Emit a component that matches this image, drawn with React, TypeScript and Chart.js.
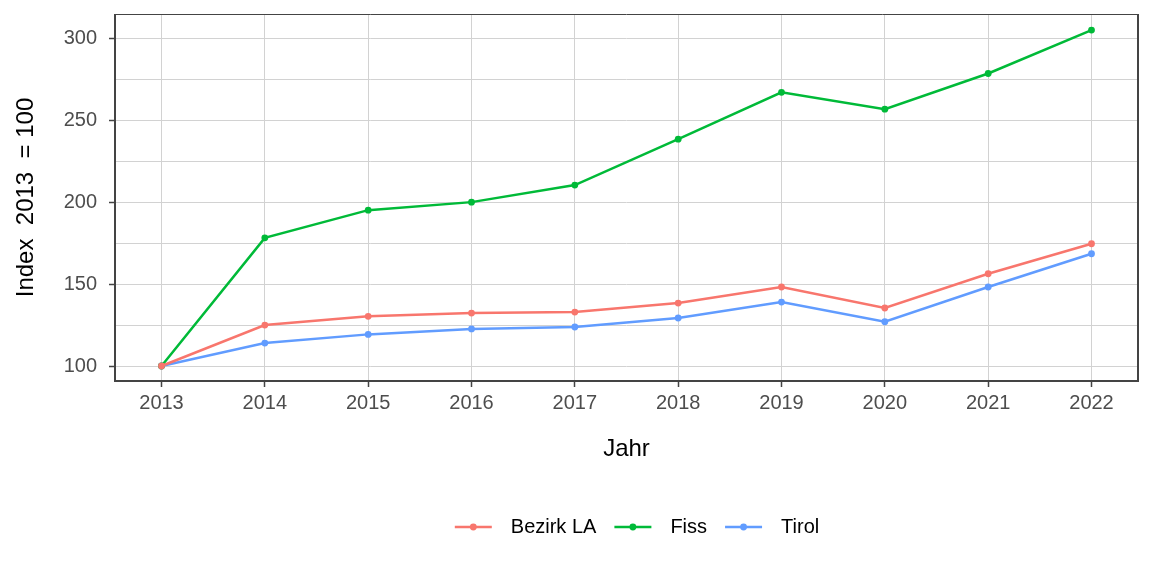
import React, { useEffect, useRef } from "react";
import { Chart, registerables } from "chart.js";

Chart.register(...registerables);

const years = [2013, 2014, 2015, 2016, 2017, 2018, 2019, 2020, 2021, 2022];
const bezirkLA = [100, 125, 130.3, 132.3, 132.9, 138.4, 148.2, 135.4, 156.3, 174.6];
const fiss = [100, 178.2, 195.1, 200, 210.4, 238.4, 267, 256.7, 278.5, 305];
const tirol = [100, 114, 119.3, 122.6, 123.8, 129.3, 139, 127, 148.2, 168.5];
const seriesNames = ["Bezirk LA", "Fiss", "Tirol"];
const seriesColors = ["#F8766D", "#00BA38", "#619CFF"];
const yGridTicks = [100, 125, 150, 175, 200, 225, 250, 275, 300];
const yLabelStep = 50;
const yTitle = "Index  2013  = 100";
const xTitle = "Jahr";

const FONT = '"Liberation Sans", Arial, sans-serif';

const framePlugin = {
  id: "frameAndLegend",
  afterDraw(chart: any) {
    const { ctx, chartArea } = chart;
    const { left, right, top, bottom } = chartArea;
    ctx.save();
    ctx.strokeStyle = "#444444";
    ctx.lineWidth = 1;
    ctx.beginPath();
    ctx.moveTo(left, Math.round(top) + 0.5);
    ctx.lineTo(right, Math.round(top) + 0.5);
    ctx.stroke();
    ctx.lineWidth = 2;
    ctx.beginPath();
    ctx.moveTo(Math.round(left), top);
    ctx.lineTo(Math.round(left), Math.round(bottom));
    ctx.lineTo(Math.round(right), Math.round(bottom));
    ctx.lineTo(Math.round(right), top);
    ctx.stroke();

    const ds = chart.data.datasets;
    ctx.font = `20px ${FONT}`;
    const glyphW = 37;
    const gapText = 19;
    const gapItem = 18;
    const widths = ds.map((d: any) => ctx.measureText(d.label).width);
    let total = 0;
    widths.forEach((w: number, i: number) => {
      total += glyphW + gapText + w + (i < widths.length - 1 ? gapItem : 0);
    });
    const cy = 527;
    let x = 637 - total / 2;
    ds.forEach((d: any, i: number) => {
      ctx.strokeStyle = d.borderColor;
      ctx.fillStyle = d.borderColor;
      ctx.lineWidth = 2.5;
      ctx.beginPath();
      ctx.moveTo(x, cy);
      ctx.lineTo(x + glyphW, cy);
      ctx.stroke();
      ctx.beginPath();
      ctx.arc(x + glyphW / 2, cy, 3.4, 0, Math.PI * 2);
      ctx.fill();
      ctx.fillStyle = "#000000";
      ctx.textBaseline = "middle";
      ctx.textAlign = "left";
      ctx.fillText(d.label, x + glyphW + gapText, cy);
      x += glyphW + gapText + widths[i] + gapItem;
    });
    ctx.restore();
  },
};

export default function App() {
  const ref = useRef<HTMLCanvasElement | null>(null);

  useEffect(() => {
    if (!ref.current) return;
    const seriesValues = [bezirkLA, fiss, tirol];
    const chart = new Chart(ref.current, {
      type: "line",
      data: {
        datasets: seriesNames.map((name, i) => ({
          label: name,
          data: years.map((y, j) => ({ x: y, y: seriesValues[i][j] })),
          borderColor: seriesColors[i],
          backgroundColor: seriesColors[i],
          borderWidth: 2.5,
          pointRadius: 3.4,
          pointBorderWidth: 0,
          pointHoverRadius: 3.4,
          tension: 0,
          fill: false,
        })),
      },
      options: {
        responsive: false,
        animation: false,
        events: [],
        layout: { padding: { top: 14, right: 14, bottom: 114, left: 0 } },
        plugins: {
          legend: { display: false },
          tooltip: { enabled: false },
        },
        scales: {
          x: {
            type: "linear",
            min: 2012.55,
            max: 2022.45,
            afterBuildTicks: (scale: any) => {
              scale.ticks = years.map((v) => ({ value: v }));
            },
            afterFit: (scale: any) => {
              scale.height = 81;
              scale.paddingLeft = 0;
              scale.paddingRight = 0;
            },
            border: { display: false },
            grid: {
              color: "#d2d2d2",
              lineWidth: 1,
              drawTicks: true,
              tickLength: 6,
              tickColor: "#444444",
              tickWidth: 1.5,
            },
            ticks: {
              autoSkip: false,
              maxRotation: 0,
              padding: 4,
              color: "#4d4d4d",
              font: { family: FONT, size: 20 },
              callback: (v: any) => String(v),
            },
            title: {
              display: true,
              text: xTitle,
              color: "#000000",
              font: { family: FONT, size: 24 },
              padding: { top: 0, bottom: -2 },
            },
          },
          y: {
            type: "linear",
            min: 90.85,
            max: 314.8,
            afterBuildTicks: (scale: any) => {
              scale.ticks = yGridTicks.map((v) => ({ value: v }));
            },
            afterFit: (scale: any) => {
              scale.width = 115;
              scale.paddingTop = 0;
              scale.paddingBottom = 0;
            },
            border: { display: false },
            grid: {
              color: "#d2d2d2",
              lineWidth: 1,
              drawTicks: true,
              tickLength: 6,
              tickColor: (c: any) =>
                c.tick && c.tick.value % yLabelStep === 0 ? "#444444" : "rgba(0,0,0,0)",
              tickWidth: 1.5,
            },
            ticks: {
              padding: 12,
              color: "#4d4d4d",
              font: { family: FONT, size: 20 },
              callback: (v: any) => (Number(v) % yLabelStep === 0 ? String(v) : ""),
            },
            title: {
              display: true,
              text: yTitle,
              color: "#000000",
              font: { family: FONT, size: 24 },
              padding: { top: 12, bottom: 0 },
            },
          },
        },
      },
      plugins: [framePlugin],
    } as any);
    return () => chart.destroy();
  }, []);

  return (
    <div style={{ position: "fixed", left: 0, top: 0, width: 1152, height: 576, background: "#ffffff" }}>
      <canvas ref={ref} width={1152} height={576} style={{ display: "block" }} />
    </div>
  );
}
